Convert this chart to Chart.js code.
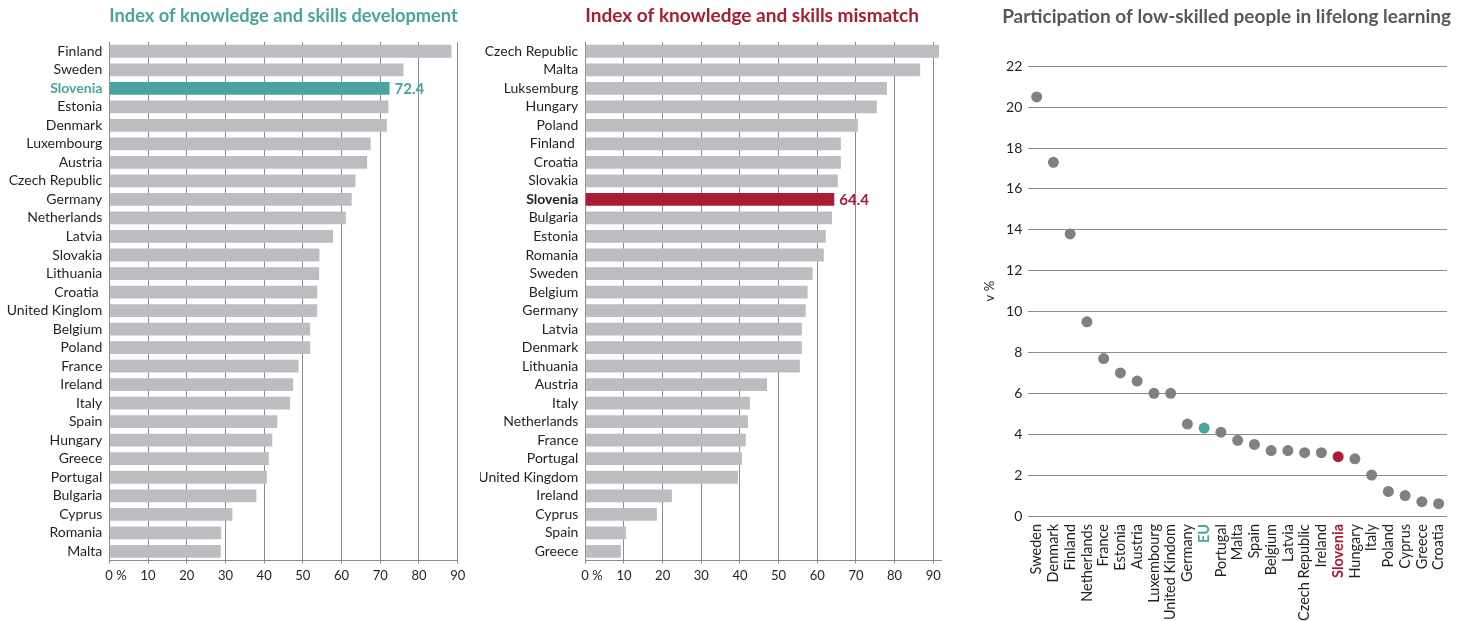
<!DOCTYPE html>
<html><head><meta charset="utf-8">
<script src="https://cdn.jsdelivr.net/npm/chart.js@4"></script>
<style>
html,body{margin:0;padding:0;background:#fff;width:1467px;height:621px;overflow:hidden;}
.box{position:absolute;top:0;height:621px;}
#b1{left:0;width:480px}
#b2{left:480px;width:480px}
#b3{left:965px;width:491px}
</style></head><body>
<div class="box" id="b1"><canvas id="c1"></canvas></div>
<div class="box" id="b2"><canvas id="c2"></canvas></div>
<div class="box" id="b3"><canvas id="c3"></canvas></div>
<script>
// ---- data ----
const devCountries = ['Finland','Sweden','Slovenia','Estonia','Denmark','Luxembourg','Austria','Czech Republic','Germany','Netherlands','Latvia','Slovakia','Lithuania','Croatia ','United Kinglom','Belgium','Poland','France','Ireland','Italy','Spain','Hungary','Greece','Portugal','Bulgaria','Cyprus','Romania','Malta'];
const devValues = [88.4,76.0,72.4,72.1,71.7,67.5,66.6,63.6,62.6,61.1,57.8,54.3,54.2,53.7,53.7,51.9,51.9,48.9,47.5,46.7,43.4,42.1,41.2,40.7,38.0,31.8,28.9,28.8];

const misCountries = ['Czech Republic','Malta','Luksemburg','Hungary','Poland','Finland ','Croatia','Slovakia','Slovenia','Bulgaria','Estonia','Romania','Sweden','Belgium','Germany','Latvia','Denmark','Lithuania','Austria','Italy','Netherlands','France','Portugal','United Kingdom','Ireland','Cyprus','Spain','Greece'];
const misValues = [91.5,86.6,78.0,75.4,70.5,66.1,66.1,65.3,64.4,63.8,62.2,61.7,58.8,57.5,57.0,56.0,56.0,55.5,47.0,42.6,42.1,41.5,40.5,39.5,22.4,18.5,10.5,9.2];

const llCountries = ['Sweden','Denmark','Finland','Netherlands','France','Estonia','Austria','Luxembourg','United Kindom','Germany','EU','Portugal','Malta','Spain','Belgium','Latvia','Czech Republic','Ireland','Slovenia','Hungary','Italy','Poland','Cyprus','Greece','Croatia'];
const llValues = [20.5,17.3,13.8,9.5,7.7,7.0,6.6,6.0,6.0,4.5,4.3,4.1,3.7,3.5,3.2,3.2,3.1,3.1,2.9,2.8,2.0,1.2,1.0,0.7,0.6];

const pctTicks = [0,10,20,30,40,50,60,70,80,90];
const titles = ['Index of knowledge and skills development','Index of knowledge and skills mismatch','Participation of low-skilled people in lifelong learning'];
const yTitle3 = 'v %';

// ---- styles ----
const TEAL = '#4aa3a0', RED = '#a81c35', GREY_BAR = '#bcbdc0', TXT = '#231f20', GRID = '#8c8c8c';
Chart.defaults.font.family = 'Lato, "Open Sans", sans-serif';
Chart.defaults.color = TXT;
Chart.defaults.animation = false;

const valueLabel = {
  id: 'valueLabel',
  afterDatasetsDraw(chart, args, opts) {
    if (opts.index == null) return;
    const el = chart.getDatasetMeta(0).data[opts.index];
    const ctx = chart.ctx;
    ctx.save();
    ctx.font = 'bold 15px Lato';
    ctx.fillStyle = opts.color;
    ctx.textBaseline = 'middle';
    ctx.textAlign = 'left';
    ctx.fillText(chart.data.datasets[0].data[opts.index].toFixed(1), el.x + 5, el.y + 1);
    ctx.restore();
  }
};

function barChart(id, labels, values, hiName, hiBar, hiText, title, titleColor, xMax, yWidth, rightPad) {
  const hi = labels.indexOf(hiName);
  new Chart(document.getElementById(id), {
    type: 'bar',
    data: {
      labels: labels,
      datasets: [{
        data: values,
        backgroundColor: values.map((v, i) => i === hi ? hiBar : GREY_BAR),
        categoryPercentage: 1,
        barPercentage: 0.69
      }]
    },
    plugins: [valueLabel],
    options: {
      indexAxis: 'y',
      responsive: true,
      maintainAspectRatio: false,
      layout: { padding: { top: 0, right: rightPad, bottom: 35.4, left: 0 } },
      plugins: {
        legend: { display: false },
        tooltip: { enabled: false },
        title: {
          display: true, text: title, color: titleColor, align: 'start', fullSize: false,
          font: { size: 19, weight: 'bold' }, padding: { top: 4.6, bottom: 14.6 }
        },
        valueLabel: { index: hi, color: hiBar }
      },
      scales: {
        x: {
          min: 0, max: xMax,
          afterBuildTicks: s => { s.ticks = pctTicks.map(v => ({ value: v })); },
          afterFit: s => { s.height = 25; s.paddingLeft = 0; s.paddingRight = 0; },
          grid: { color: GRID, lineWidth: 1, drawTicks: true, tickLength: 3 },
          border: { display: true, color: GRID },
          ticks: { font: { size: 13 }, color: TXT, padding: 4, minRotation: 0, maxRotation: 0, autoSkip: false,
                   callback: v => v === 0 ? '    0 %' : String(v) }
        },
        y: {
          afterFit: s => { s.width = yWidth; },
          grid: { display: false, drawTicks: false },
          border: { display: false },
          ticks: {
            autoSkip: false,
            padding: 7,
            color: c => c.index === hi ? hiText : TXT,
            font: c => c.index === hi ? { size: 14, weight: 'bold' } : { size: 14 }
          }
        }
      }
    }
  });
}

barChart('c1', devCountries, devValues, 'Slovenia', TEAL, TEAL, titles[0], TEAL, 90, 109.3, 22.3);
barChart('c2', misCountries, misValues, 'Slovenia', RED, TXT, titles[1], RED, 92, 105.3, 19);

// ---- dot chart ----
const euIdx = llCountries.indexOf('EU'), sloIdx = llCountries.indexOf('Slovenia');
const llColors = llCountries.map((c, i) => i === euIdx ? TEAL : (i === sloIdx ? RED : '#808083'));
new Chart(document.getElementById('c3'), {
  type: 'line',
  data: {
    labels: llCountries,
    datasets: [{
      data: llValues, showLine: false,
      pointRadius: 5.5, pointHoverRadius: 5.5, pointBorderWidth: 0,
      pointBackgroundColor: llColors, pointBorderColor: llColors
    }]
  },
  options: {
    responsive: true,
    maintainAspectRatio: false,
    layout: { padding: { top: 0, right: 5, bottom: 0, left: 0 } },
    plugins: {
      legend: { display: false },
      tooltip: { enabled: false },
      title: {
        display: true, text: titles[2], color: '#58585a', align: 'end', fullSize: true,
        font: { size: 19, weight: 'bold' }, padding: { top: 5.6, bottom: 37.9 }
      }
    },
    scales: {
      x: {
        offset: true,
        afterFit: s => { s.height = 105; s.paddingLeft = 0; s.paddingRight = 9; },
        grid: { display: false, drawTicks: false },
        border: { display: false },
        ticks: {
          autoSkip: false, minRotation: 90, maxRotation: 90, padding: 8,
          color: c => c.index === euIdx ? TEAL : (c.index === sloIdx ? RED : TXT),
          font: c => (c.index === euIdx || c.index === sloIdx) ? { size: 14.5, weight: 'bold' } : { size: 14.5 }
        }
      },
      y: {
        min: 0, max: 22,
        afterFit: s => { s.width = 63.3; },
        grid: { color: GRID, lineWidth: 1, drawTicks: false },
        border: { display: false },
        ticks: { stepSize: 2, padding: 6, color: TXT, font: { size: 14 } },
        title: { display: true, text: yTitle3, color: TXT, font: { size: 13 }, padding: { top: 17, bottom: 0 } }
      }
    }
  }
});
</script>
</body></html>
